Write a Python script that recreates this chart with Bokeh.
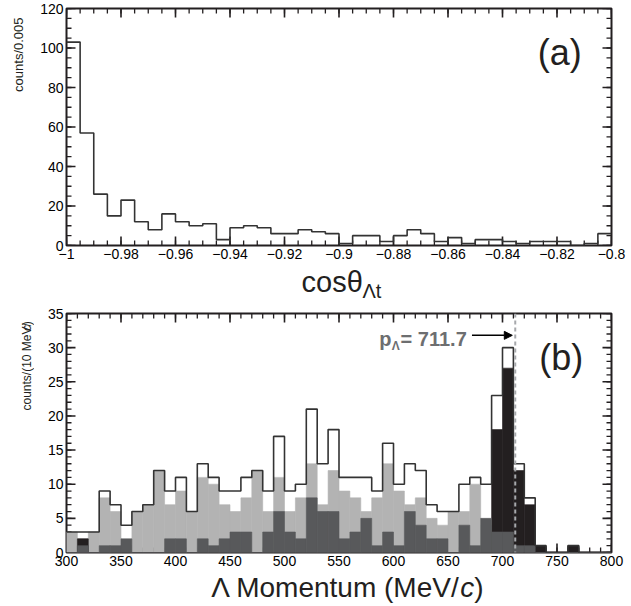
import numpy as np
from bokeh.plotting import figure
from bokeh.layouts import column, row
from bokeh.models import (Range1d, SingleIntervalTicker, LinearAxis, Label, Span,
                          Arrow, NormalHead, CustomJSTickFormatter)
from bokeh.embed import file_html
from bokeh.resources import INLINE

# ---------------- data: panel (a) ----------------
cos_start = -1.0
cos_bin = 0.005
cos_counts = [103, 57, 26, 15, 23, 12, 8, 16, 12, 10,
              11, 3, 9, 10, 9, 6, 6, 8, 7, 6,
              1, 5, 5, 2, 5, 8, 6, 2, 4, 1,
              3, 3, 2, 1, 2, 2, 2, 0, 1, 6]

# ---------------- data: panel (b) ----------------
mom_start = 300
mom_bin = 10
mom_total = [3, 3, 3, 9, 7, 4, 6, 7, 12, 9,
             11, 6, 13, 11, 9, 9, 11, 12, 9, 17,
             9, 10, 21, 13, 18, 11, 11, 11, 9, 16,
             10, 13, 12, 7, 6, 6, 10, 11, 10, 23,
             30, 13, 8, 1, 0, 0, 1, 0, 0, 0]
mom_light = [3, 2, 3, 8, 6, 1, 6, 7, 12, 7,
             9, 6, 11, 10, 7, 6, 8, 12, 6, 11,
             6, 8, 13, 7, 12, 9, 8, 6, 8, 13,
             9, 7, 8, 5, 4, 6, 6, 10, 4, 0,
             0, 0, 0, 0, 0, 0, 0, 0, 0, 0]
mom_dark = [0, 1, 0, 1, 1, 2, 0, 0, 0, 2,
            2, 0, 2, 1, 2, 3, 3, 0, 3, 6,
            3, 2, 8, 6, 6, 2, 3, 5, 1, 3,
            1, 6, 4, 2, 2, 0, 4, 1, 5, 3,
            3, 1, 1, 0, 0, 0, 0, 0, 0, 0]
mom_black = [0, 2, 0, 0, 0, 0, 0, 0, 0, 0,
             0, 0, 0, 0, 0, 0, 0, 0, 0, 0,
             0, 0, 0, 0, 0, 0, 0, 0, 0, 0,
             0, 0, 0, 0, 0, 0, 0, 0, 0, 18,
             27, 12, 7, 1, 0, 0, 1, 0, 0, 0]
P_LAMBDA = 711.7

FONT = "Liberation Sans"
INK = "#231f20"
LIGHT = "#b3b3b3"
DARK = "#58595b"
BLACK = "#231f20"
GRAY = "#6d6e70"

W_TOTAL = 631
W_YLAB = 34
FRAME_LEFT = 66
FRAME_W = 545


def label_axis(ax):
    ax.axis_line_color = None
    ax.major_tick_in = 0
    ax.major_tick_out = 0
    ax.minor_tick_in = 0
    ax.minor_tick_out = 0
    ax.major_label_text_font = FONT
    ax.major_label_text_font_size = "14px"
    ax.major_label_text_color = "black"
    ax.major_label_standoff = 3


def tick_values(lo, hi, step):
    n = int(round((hi - lo) / step))
    return lo + step * np.arange(n + 1)


def inward_ticks(p, xr, yr, xmaj, xmin, ymaj, ymin):
    for vals, length, width in ((xmaj, 9, 1.6), (xmin, 5, 1.3)):
        n = len(vals)
        p.ray(x=vals, y=[yr.start] * n, length=length, angle=np.pi / 2,
              length_units="screen", line_color=INK, line_width=width)
        p.ray(x=vals, y=[yr.end] * n, length=length, angle=-np.pi / 2,
              length_units="screen", line_color=INK, line_width=width)
    for vals, length, width in ((ymaj, 9, 1.6), (ymin, 5, 1.3)):
        n = len(vals)
        p.ray(x=[xr.start] * n, y=vals, length=length, angle=0,
              length_units="screen", line_color=INK, line_width=width)
        p.ray(x=[xr.end] * n, y=vals, length=length, angle=np.pi,
              length_units="screen", line_color=INK, line_width=width)


def main_fig(xr, yr, fh, top, bottom, xstep, xminor, ystep, yminor, xfmt=None):
    p = figure(x_range=xr, y_range=yr, frame_width=FRAME_W, frame_height=fh,
               min_border_left=FRAME_LEFT - W_YLAB,
               min_border_right=W_TOTAL - FRAME_LEFT - FRAME_W,
               min_border_top=top, min_border_bottom=bottom, title=None,
               output_backend="svg", toolbar_location=None,
               x_axis_type=None, y_axis_type=None)
    p.outline_line_color = INK
    p.outline_line_width = 2
    p.background_fill_color = "white"
    p.border_fill_color = "white"
    bx = LinearAxis(ticker=SingleIntervalTicker(interval=xstep, num_minor_ticks=0))
    if xfmt is not None:
        bx.formatter = xfmt
    label_axis(bx)
    p.add_layout(bx, "below")
    ly = LinearAxis(ticker=SingleIntervalTicker(interval=ystep, num_minor_ticks=0))
    label_axis(ly)
    p.add_layout(ly, "left")
    inward_ticks(p, xr, yr,
                 tick_values(xr.start, xr.end, xstep), tick_values(xr.start, xr.end, xminor),
                 tick_values(yr.start, yr.end, ystep), tick_values(yr.start, yr.end, yminor))
    return p


def strip(w, h):
    s = figure(width=w, height=h, x_range=Range1d(0, w), y_range=Range1d(0, h),
               min_border=0, title=None, x_axis_type=None, y_axis_type=None,
               output_backend="svg", toolbar_location=None)
    s.outline_line_color = None
    s.background_fill_color = "white"
    s.border_fill_color = "white"
    s.xgrid.visible = False
    s.ygrid.visible = False
    return s


def txt(p, x, y, text, size, align="left", style="normal", color=INK, angle=0):
    p.add_layout(Label(x=x, y=y, text=text, text_font=FONT,
                       text_font_size="%spx" % size, text_font_style=style,
                       text_align=align, text_baseline="middle",
                       text_color=color, angle=angle))


# ================= panel (a) =================
xfmt = CustomJSTickFormatter(code=r"""
const a = Math.abs(tick);
let s = a.toFixed(2).replace(/0+$/, '').replace(/\.$/, '');
return (tick < -1e-9 ? '\u2212' : '') + s;
""")
pa = main_fig(Range1d(-1.0, -0.8), Range1d(0, 120), 237, 8, 19,
              0.02, 0.005, 20, 5, xfmt)
cos_edges = np.round(cos_start + cos_bin * np.arange(len(cos_counts) + 1), 4)
pa.step(x=list(cos_edges), y=cos_counts + [cos_counts[-1]], mode="after",
        line_color="#333333", line_width=1.6)
txt(pa, -0.819, 97.8, "(a)", 36, align="center")

ya = strip(W_YLAB, 264)
txt(ya, 18, 254, "counts/0.005", 13, align="right", angle=np.pi / 2)

xa = strip(W_TOTAL, 41)
txt(xa, 301, 24, "cosθ", 29)
txt(xa, 362, 15, "Λt", 20)

# ================= panel (b) =================
pb = main_fig(Range1d(300, 800), Range1d(0, 35), 239, 8, 19,
              50, 10, 5, 1)
mom_edges = mom_start + mom_bin * np.arange(len(mom_total) + 1)
left = mom_edges[:-1]
right = mom_edges[1:]
pb.quad(left=left, right=right, bottom=0, top=mom_light,
        fill_color=LIGHT, line_color=LIGHT, line_width=0.6)
pb.quad(left=left, right=right, bottom=0, top=mom_black,
        fill_color=BLACK, line_color=BLACK, line_width=0.6)
pb.quad(left=left, right=right, bottom=0, top=mom_dark,
        fill_color=DARK, line_color=DARK, line_width=0.6)
pb.step(x=list(mom_edges), y=mom_total + [mom_total[-1]], mode="after",
        line_color="#333333", line_width=1.6)

pb.add_layout(Span(location=P_LAMBDA, dimension="height", line_color="#a7a9ac",
                   line_dash="4 3", line_width=2))
pb.add_layout(Arrow(end=NormalHead(size=8, fill_color="black", line_color="black"),
                    x_start=672, y_start=31.8, x_end=709, y_end=31.8,
                    line_width=1.5, line_color="black"))
txt(pb, 587, 31.3, "p", 20, style="bold", color=GRAY)
txt(pb, 598.5, 30.3, "Λ", 12, style="bold", color=GRAY)
txt(pb, 606.5, 31.3, "= %.1f" % P_LAMBDA, 20, style="bold", color=GRAY)
txt(pb, 754, 28.5, "(b)", 36, align="center")

yb = strip(W_YLAB, 266)
txt(yb, 26, 158, "counts/(10 MeV/", 12, angle=np.pi / 2)
txt(yb, 26, 246.6, "c", 12, style="italic", angle=np.pi / 2)
txt(yb, 26, 253.0, ")", 12, angle=np.pi / 2)

xb = strip(W_TOTAL, 35)
txt(xb, 459.7, 19, "Λ Momentum (MeV/", 28, align="right")
txt(xb, 459.7, 19, "c", 28, style="italic")
txt(xb, 473.7, 19, ")", 28)

layout = column(row(ya, pa), xa, row(yb, pb), xb)
open("out.html", "w").write(file_html(layout, INLINE))
